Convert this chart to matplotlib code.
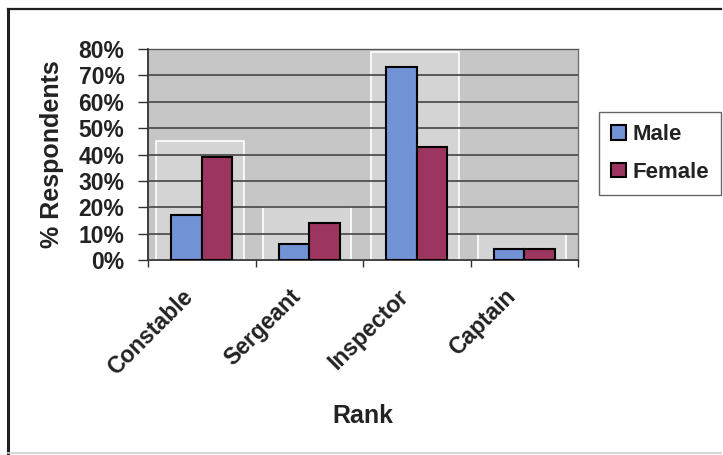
import matplotlib.pyplot as plt
import numpy as np
from matplotlib.patches import Rectangle
from matplotlib.lines import Line2D
from matplotlib.transforms import ScaledTranslation

plt.rcParams['font.family'] = ['Liberation Sans', 'DejaVu Sans']
plt.rcParams['font.weight'] = 'bold'

ranks = ['Constable', 'Sergeant', 'Inspector', 'Captain']
male = [17, 6, 73, 4]
female = [39, 14, 43, 4]
y_ticks = [0, 10, 20, 30, 40, 50, 60, 70, 80]

fig = plt.figure(figsize=(7.23, 4.55), dpi=100)
ax = fig.add_axes([148 / 723, 195 / 455, 430 / 723, 211 / 455])
ax.set_facecolor('#c6c6c6')

x = np.arange(len(ranks))
w = 0.285

# lighter panel behind each group of bars
for xi, m, f in zip(x, male, female):
    top = min(max(m, f) + 6, 80)
    ax.add_patch(Rectangle((xi - 0.43, 0), 0.82, top, facecolor='#d4d4d4',
                           edgecolor='white', lw=1.2, zorder=1))

ax.bar(x - w / 2, male, w, color='#7292d6', edgecolor='black', lw=1.5,
       label='Male', zorder=3)
ax.bar(x + w / 2, female, w, color='#9c3660', edgecolor='black', lw=1.5,
       label='Female', zorder=3)

ax.set_xlim(-0.5, len(ranks) - 0.5)
ax.set_ylim(0, 80)
ax.set_yticks(y_ticks)
ax.set_yticklabels([f'{v}%' for v in y_ticks], fontsize=16.5, color='#222222')
ax.yaxis.grid(True, color='#505050', lw=1.3, zorder=2)
ax.set_axisbelow(False)

# category boundary ticks below the axis, rotated names under each group
ax.set_xticks(np.arange(-0.5, len(ranks) + 0.5, 1))
ax.set_xticklabels([])
ax.tick_params(axis='x', length=5, width=1, color='#303030', direction='out')
ax.tick_params(axis='y', length=7, width=1, color='#303030', pad=10)

shift = ScaledTranslation(-0.20, -0.25, fig.dpi_scale_trans)
for xi, name in zip(x, ranks):
    ax.text(xi, 0, name, transform=ax.get_xaxis_transform() + shift,
            rotation=45, ha='right', va='top', rotation_mode='anchor',
            fontsize=16.5, fontweight='bold', color='#222222')

for side in ['top', 'right']:
    ax.spines[side].set_color('#707070')
    ax.spines[side].set_linewidth(1)
for side in ['left', 'bottom']:
    ax.spines[side].set_color('#303030')
    ax.spines[side].set_linewidth(1.3)

ax.set_ylabel('% Respondents', fontsize=18, fontweight='bold', labelpad=10,
              color='#222222')
ax.set_xlabel('Rank', fontsize=18, fontweight='bold', labelpad=95,
              color='#222222')

leg = fig.legend(loc='upper left', bbox_to_anchor=(599 / 723, 1 - 112 / 455),
                 frameon=True, fancybox=False, edgecolor='#404040',
                 prop={'size': 16, 'weight': 'bold'}, handlelength=0.65,
                 handleheight=0.65, handletextpad=0.3, labelspacing=0.75,
                 borderpad=0.55, borderaxespad=0)
leg.get_frame().set_linewidth(1)
for t in leg.get_texts():
    t.set_color('#222222')

# outer chart border: dark left/top, faint right/bottom
fig.add_artist(Line2D([8 / 723, 8 / 723], [2 / 455, 446 / 455],
                      transform=fig.transFigure, color='#202020', lw=2.2))
fig.add_artist(Line2D([8 / 723, 721 / 723], [446 / 455, 446 / 455],
                      transform=fig.transFigure, color='#202020', lw=1.6))
fig.add_artist(Line2D([8 / 723, 721 / 723], [2 / 455, 2 / 455],
                      transform=fig.transFigure, color='#d0d0d0', lw=1.2))

fig.savefig('out.png', dpi=100)
